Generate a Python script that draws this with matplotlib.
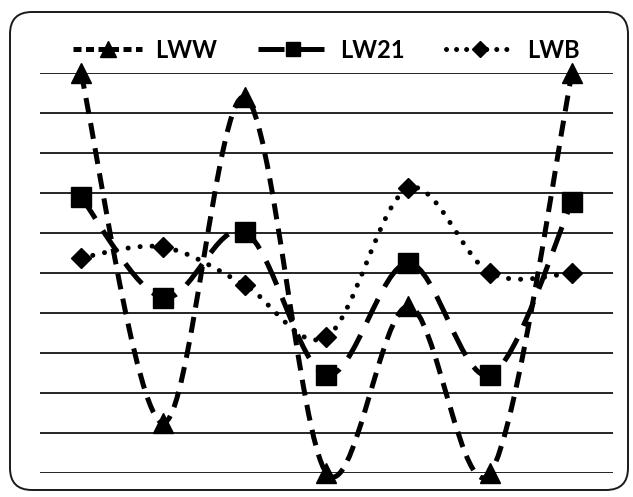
import matplotlib
matplotlib.use("Agg")
import matplotlib.pyplot as plt
from matplotlib.path import Path
from matplotlib.patches import PathPatch, FancyBboxPatch
from matplotlib.lines import Line2D
from matplotlib.font_manager import FontProperties
import numpy as np

# ---- data ----
categories = [1, 2, 3, 4, 5, 6, 7]          # category axis (no labels shown)
series_names = ["LWW", "LW21", "LWB"]
lww = [10.0, 1.25, 9.4, 0.0, 4.17, 0.0, 10.0]
lw21 = [6.9, 4.38, 6.03, 2.45, 5.25, 2.45, 6.78]
lwb = [5.38, 5.65, 4.7, 3.4, 7.12, 5.0, 5.0]
y_ticks = list(range(0, 11))

W, H, DPI = 633, 497, 100
fig = plt.figure(figsize=(W / DPI, H / DPI), dpi=DPI)
fig.patch.set_facecolor("white")

# rounded outer frame (drawn in pixel space so the corners stay circular)
bg = fig.add_axes([0, 0, 1, 1])
bg.set_xlim(0, W)
bg.set_ylim(H, 0)
bg.axis("off")
bg.add_patch(FancyBboxPatch((10, 12), 618, 478,
                            boxstyle="round,pad=0,rounding_size=22",
                            fill=False, ec="#1a1a1a", lw=1.4))

ax = fig.add_axes([40 / W, 1 - 473 / H, 573 / W, 400 / H])
ax.set_xlim(categories[0] - 0.5, categories[-1] + 0.5)
ax.set_ylim(y_ticks[0], y_ticks[-1])
ax.set_yticks(y_ticks)
ax.set_xticks([])
ax.yaxis.grid(True, color="black", lw=1.2)
ax.set_axisbelow(True)
ax.tick_params(left=False, bottom=False, labelleft=False, labelbottom=False)
for s in ax.spines.values():
    s.set_visible(False)
ax.patch.set_alpha(0)


def smooth_path(xs, ys):
    """Catmull-Rom style smoothed line (as in spreadsheet 'smoothed line')."""
    pts = np.column_stack([xs, ys]).astype(float)
    n = len(pts)
    verts = [pts[0]]
    codes = [Path.MOVETO]
    for i in range(n - 1):
        p0 = pts[i - 1] if i > 0 else pts[i]
        p1 = pts[i]
        p2 = pts[i + 1]
        p3 = pts[i + 2] if i + 2 < n else pts[i + 1]
        c1 = p1 + (p2 - p0) / 6.0
        c2 = p2 - (p3 - p1) / 6.0
        verts += [c1, c2, p2]
        codes += [Path.CURVE4] * 3
    return Path(verts, codes)


LW = 3.6
styles = {
    "LWW": dict(ls=(0, (3.2, 1.9)), lls=(0, (1.6, 0.9)), cap="butt", marker="^", ms=15, lms=11),
    "LW21": dict(ls=(0, (5.2, 2.8)), lls=(0, (5.2, 2.8)), cap="butt", marker="s", ms=14, lms=10.5),
    "LWB": dict(ls=(0, (0.01, 2.4)), lls=(0, (0.01, 2.0)), cap="round", marker="D", ms=10, lms=8),
}

handles = []
for name, vals in zip(series_names, [lww, lw21, lwb]):
    st = styles[name]
    patch = PathPatch(smooth_path(categories, vals), fill=False, ec="black",
                      lw=LW, ls=st["ls"], capstyle=st["cap"], joinstyle="round",
                      clip_on=False, zorder=3)
    ax.add_patch(patch)
    ax.plot(categories, vals, ls="none", marker=st["marker"], ms=st["ms"],
            color="black", clip_on=False, zorder=4)
    h = Line2D([], [], color="black", lw=LW, ls=st["lls"], marker=st["marker"],
               ms=st["lms"], dash_capstyle=st["cap"])
    handles.append(h)

fig.legend(handles, series_names, loc="center", bbox_to_anchor=(0.516, 0.899),
           ncol=3, frameon=False, numpoints=1,
           prop=FontProperties(family="Lato", weight="bold", size=17),
           handlelength=2.9, handletextpad=0.55, columnspacing=1.75,
           borderpad=0, borderaxespad=0)

fig.savefig("out.png", dpi=DPI, facecolor="white")
